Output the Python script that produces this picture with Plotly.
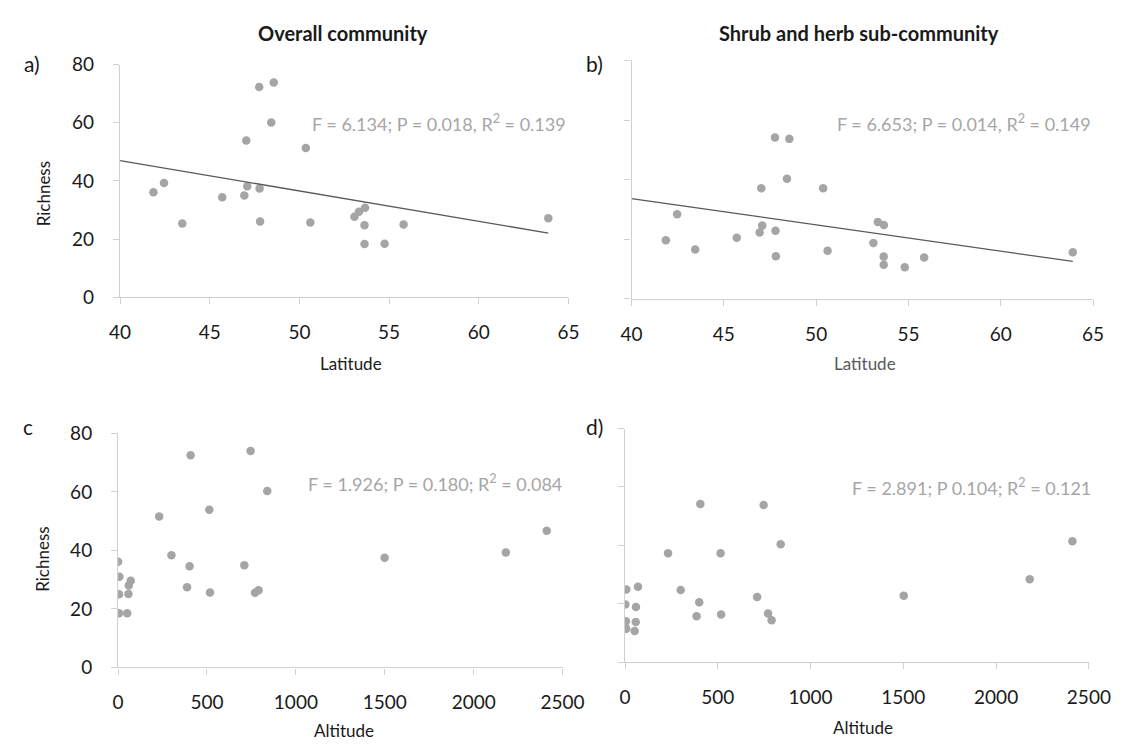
import plotly.graph_objects as go

# ---- data -------------------------------------------------------------
lat_overall = [41.86, 42.45, 43.47, 45.70, 46.93, 47.04, 47.09, 47.76, 47.78, 47.81, 48.43,
               48.57, 50.36, 50.61, 53.07, 53.32, 53.66, 53.63, 53.63, 54.75, 55.81, 63.88]
rich_lat_overall = [36.1, 39.3, 25.4, 34.4, 35.0, 53.9, 38.2, 72.3, 37.4, 26.1, 60.1,
                    73.9, 51.3, 25.7, 27.7, 29.4, 30.8, 24.8, 18.3, 18.4, 25.0, 27.2]

lat_shrub = [41.86, 42.47, 43.45, 45.70, 46.94, 47.03, 47.08, 47.77, 47.80, 47.82, 48.42,
             48.55, 50.38, 50.62, 53.10, 53.34, 53.67, 53.66, 53.66, 54.80, 55.85, 63.90]
rich_lat_shrub = [19.7, 28.4, 16.6, 20.5, 22.3, 37.1, 24.6, 54.2, 22.9, 14.3, 40.3,
                  53.7, 37.1, 16.2, 18.8, 25.8, 24.8, 14.2, 11.5, 10.6, 13.9, 15.7]

alt_overall = [0, 7, 5, 5, 51, 58, 60, 71, 231, 300, 388, 402, 408, 513, 517, 710, 745,
               770, 790, 839, 1499, 2181, 2411]
rich_alt_overall = [36.1, 31.0, 25.0, 18.5, 18.5, 25.1, 28.0, 29.6, 51.6, 38.3, 27.4, 34.6,
                    72.5, 53.9, 25.6, 34.9, 74.0, 25.5, 26.4, 60.3, 37.5, 39.3, 46.7]

alt_shrub = [7, 2, 5, 7, 52, 58, 59, 70, 232, 300, 386, 400, 406, 515, 518, 712, 747,
             771, 790, 839, 1502, 2181, 2411]
rich_alt_shrub = [24.9, 19.8, 14.0, 11.5, 10.7, 13.8, 18.9, 25.8, 37.3, 24.7, 15.7, 20.5,
                  54.2, 37.3, 16.3, 22.3, 53.8, 16.7, 14.4, 40.4, 22.8, 28.4, 41.4]

# linear trend (intercept, slope) for the latitude panels
trend_overall = (88.72, -1.043)
trend_shrub = (69.0, -0.883)

stats_text = [
    "F = 6.134; P = 0.018, R<sup>2</sup> = 0.139",
    "F = 6.653; P = 0.014, R<sup>2</sup> = 0.149",
    "F = 1.926; P = 0.180; R<sup>2</sup> = 0.084",
    "F = 2.891; P 0.104; R<sup>2</sup> = 0.121",
]
column_titles = ["Overall community", "Shrub and herb sub-community"]
panel_tags = ["a)", "b)", "c", "d)"]

# ---- style --------------------------------------------------------------
W, H = 1141, 753
FONT = "Lato"
DOT = "#a5a5a5"
AXIS = "#d0d0d0"
TEXT = "#1a1a1a"
STAT = "#a6a6a6"
LINE = "#595959"


def px_x(x):
    return x / W


def px_y(y):
    return 1 - y / H


fig = go.Figure()

# panel frames in pixels: (left, right, top, bottom)
frames = {
    1: (112.3, 574.0, 54.3, 294.3),
    2: (639.0, 1114.3, 50.0, 296.0),
    3: (110.3, 568.0, 434.7, 676.0),
    4: (632.3, 1110.0, 429.7, 670.7),
}

series = [
    (lat_overall, rich_lat_overall),
    (lat_shrub, rich_lat_shrub),
    (alt_overall, rich_alt_overall),
    (alt_shrub, rich_alt_shrub),
]

for i, (xs, ys) in enumerate(series, start=1):
    suffix = "" if i == 1 else str(i)
    fig.add_trace(go.Scatter(
        x=xs, y=ys, mode="markers",
        marker=dict(color=DOT, size=8.5, line=dict(width=0)),
        xaxis="x" + suffix, yaxis="y" + suffix, showlegend=False,
        hoverinfo="skip",
    ))

# trend lines for latitude panels
for i, (b0, b1), xs in [(1, trend_overall, lat_overall), (2, trend_shrub, lat_shrub)]:
    suffix = "" if i == 1 else str(i)
    x0, x1 = 40, max(xs)
    fig.add_trace(go.Scatter(
        x=[x0, x1], y=[b0 + b1 * x0, b0 + b1 * x1], mode="lines",
        line=dict(color=LINE, width=1.3),
        xaxis="x" + suffix, yaxis="y" + suffix, showlegend=False, hoverinfo="skip",
    ))

layout = dict(
    width=W, height=H,
    margin=dict(l=0, r=0, t=0, b=0),
    paper_bgcolor="white", plot_bgcolor="white",
    font=dict(family=FONT, color=TEXT, size=19),
    showlegend=False,
)

for i in range(1, 5):
    l, r, t, b = frames[i]
    suffix = "" if i == 1 else str(i)
    is_lat = i in (1, 2)
    show_y = i in (1, 3)
    layout["xaxis" + suffix] = dict(
        domain=[px_x(l), px_x(r)],
        anchor="y" + suffix,
        range=[40, 65] if is_lat else [0, 2500],
        tickvals=[40, 45, 50, 55, 60, 65] if is_lat else [0, 500, 1000, 1500, 2000, 2500],
        showline=True, linecolor=AXIS, linewidth=1.3,
        ticks="outside", ticklen=6, tickcolor=AXIS, tickwidth=1.3,
        showgrid=False, zeroline=False,
        tickfont=dict(family=FONT, size=19, color=TEXT),
        ticklabelstandoff=12,
    )
    layout["yaxis" + suffix] = dict(
        domain=[px_y(b), px_y(t)],
        anchor="x" + suffix,
        range=[0, 80],
        tickvals=[0, 20, 40, 60, 80],
        showline=True, linecolor=AXIS, linewidth=1.3,
        ticks="outside", ticklen=6, tickcolor=AXIS, tickwidth=1.3,
        showgrid=False, zeroline=False,
        showticklabels=show_y,
        tickfont=dict(family=FONT, size=19, color=TEXT),
        ticklabelstandoff=15,
    )

fig.update_layout(**layout)

ann = []


def text_at(x, y, text, size=19, color=TEXT, xanchor="center", bold=False, angle=0):
    ann.append(dict(
        x=px_x(x), y=px_y(y), xref="paper", yref="paper",
        text=f"<b>{text}</b>" if bold else text,
        showarrow=False, xanchor=xanchor, yanchor="middle",
        textangle=angle,
        font=dict(family=FONT, size=size, color=color),
    ))


# column titles
text_at(342, 22, column_titles[0], size=20, bold=True)
text_at(873, 22, column_titles[1], size=20, bold=True)

# panel tags
text_at(22, 53, panel_tags[0], size=21)
text_at(601, 53, panel_tags[1], size=21)
text_at(18, 428, panel_tags[2], size=21)
text_at(601, 428, panel_tags[3], size=21)

# axis titles
text_at(33, 188, "Richness", size=17, angle=-90)
text_at(33, 565, "Richness", size=17, angle=-90)
text_at(350, 363, "Latitude", size=17)
text_at(879, 363, "Latitude", size=17, color="#595959")
text_at(343, 741, "Altitude", size=17)
text_at(877, 738, "Altitude", size=17)

# regression statistics
text_at(574, 114, stats_text[0], size=18, color=STAT, xanchor="right")
text_at(1114, 114, stats_text[1], size=18, color=STAT, xanchor="right")
text_at(569, 486, stats_text[2], size=18, color=STAT, xanchor="right")
text_at(1114, 490, stats_text[3], size=18, color=STAT, xanchor="right")

fig.update_layout(annotations=ann)

fig.write_html("out.html")
